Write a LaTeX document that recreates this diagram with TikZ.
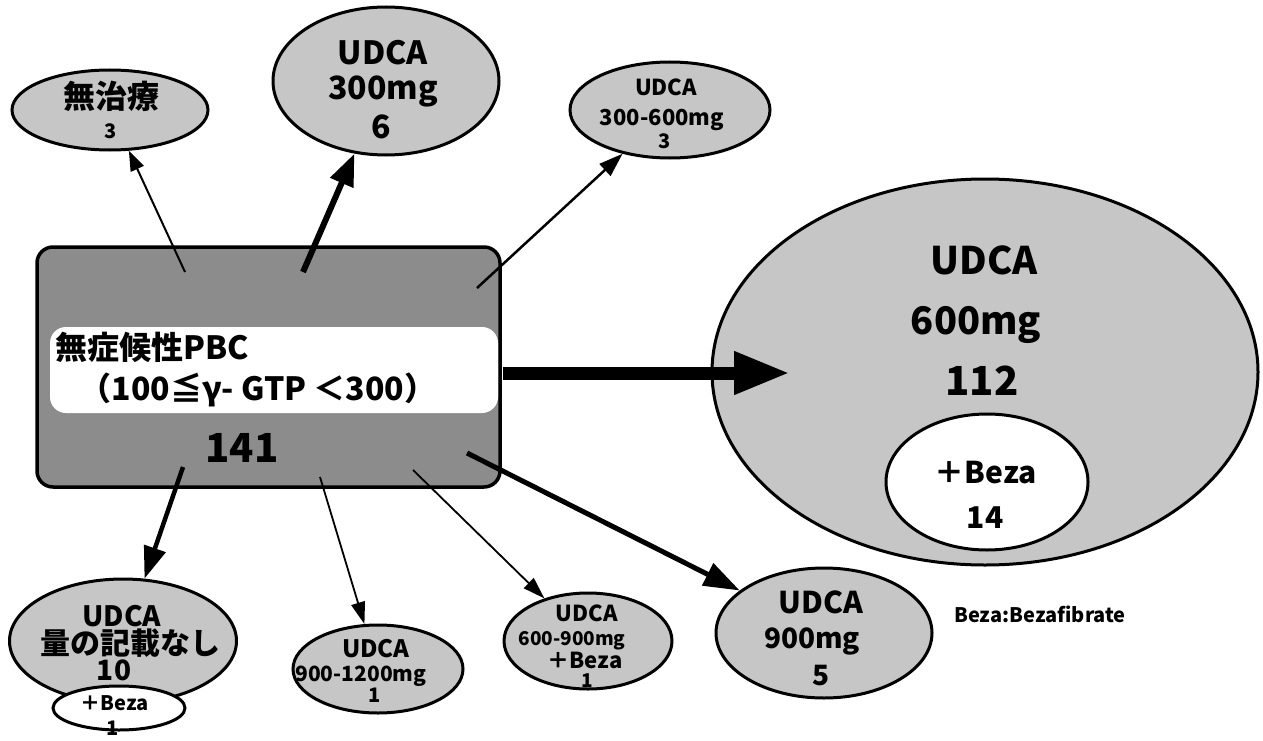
\documentclass[tikz,border=0pt]{standalone}
\usepackage{fontspec}
\setmainfont{Noto Sans CJK JP}
\usetikzlibrary{shapes.geometric,arrows.meta,calc}
\definecolor{ellgray}{RGB}{198,198,198}
\definecolor{boxgray}{RGB}{140,140,140}
\newcommand\myfs[1]{\fontsize{#1}{#1}\selectfont}
\tikzset{
  ell/.style={ellipse, draw, line width=3pt, fill=ellgray, inner sep=0pt},
  wel/.style={ellipse, draw, line width=3pt, fill=white, inner sep=0pt},
  lbl/.style={inner sep=0pt, anchor=base, font=\bfseries\myfs{#1}},
  arrA/.style={line width=2pt, -{Triangle[length=20pt,width=14pt]}},
  arrB/.style={line width=6pt, -{Triangle[length=32pt,width=24pt]}},
  arrC/.style={line width=2.5pt, -{Triangle[length=24pt,width=16pt]}},
  arrD/.style={line width=13pt, -{Triangle[length=56pt,width=40pt]}},
  arrE/.style={line width=5pt, -{Triangle[length=36pt,width=24pt]}},
  arrF/.style={line width=4.5pt, -{Triangle[length=32pt,width=22pt]}},
  arrG/.style={line width=1.8pt, -{Triangle[length=22pt,width=14pt]}},
}
\begin{document}
\begin{tikzpicture}[x=1pt,y=-1pt]
\useasboundingbox (0,0) rectangle (1263,741);

% ellipses
\node[ell, minimum width=196pt, minimum height=80pt] (nochi) at (110,110) {};
\node[ell, minimum width=226pt, minimum height=148pt] (u300) at (386,81) {};
\node[ell, minimum width=200pt, minimum height=96pt] (u300600) at (670,110) {};
\node[ell, minimum width=546pt, minimum height=386pt] (u600) at (985,372) {};
\node[wel, minimum width=202pt, minimum height=136pt] (u600b) at (987,482) {};
\node[ell, minimum width=216pt, minimum height=130pt] (u900) at (824,633) {};
\node[ell, minimum width=168pt, minimum height=96pt] (u600900) at (588,641) {};
\node[ell, minimum width=170pt, minimum height=88pt] (u9001200) at (378,669) {};
\node[ell, minimum width=227pt, minimum height=124pt] (unone) at (123,641) {};
\node[wel, minimum width=132pt, minimum height=44pt] (unoneb) at (119,708) {};

% main box
\node[draw, line width=3.5pt, rounded corners=16pt, fill=boxgray,
      minimum width=463pt, minimum height=240pt, inner sep=0pt] (box) at (268.5,367) {};
\node[fill=white, rounded corners=16pt, minimum width=448pt, minimum height=86pt,
      inner sep=0pt] (band) at (274,370) {};

% arrow start points
\coordinate (s1) at (185,272);
\coordinate (s2) at (303,272);
\coordinate (s3) at (477,288);
\coordinate (s4) at (503,373);
\coordinate (t4) at (790,373);
\coordinate (s5) at (467,453);
\coordinate (s6) at (183,467);
\coordinate (s7) at (320,477);
\coordinate (s8) at (413,470);

\draw[arrA] (s1) -- (nochi);
\draw[arrB] (s2) -- (u300);
\draw[arrC] (s3) -- (u300600);
\draw[arrD] (s4) -- (t4);
\draw[arrE] (s5) -- (u900);
\draw[arrF] (s6) -- (unone);
\draw[arrG] (s7) -- (u9001200);
\draw[arrG] (s8) -- (u600900);

% box texts
\node[lbl=32, anchor=base west] (m1) at (55,359) {無症候性PBC};
\node[lbl=32] (m2) at (258,400) {（100≦γ- GTP ＜300）};
\node[lbl=40] (m3) at (242,462) {141};

% node texts
\node[lbl=32] (n1a) at (111,109) {無治療};
\node[lbl=20] (n1b) at (111,139) {3};

\node[lbl=32] (n2a) at (383,65) {UDCA};
\node[lbl=32] (n2b) at (383,100) {300mg};
\node[lbl=32] (n2c) at (381,139) {6};

\node[lbl=22] (n3a) at (666,96) {UDCA};
\node[lbl=22] (n3b) at (662,126) {300-600mg};
\node[lbl=20] (n3c) at (665,148) {3};

\node[lbl=38] (n4a) at (984,274) {UDCA};
\node[lbl=38] (n4b) at (976,334) {600mg};
\node[lbl=40] (n4c) at (982,395) {112};
\node[lbl=30] (n4d) at (986,483) {＋Beza};
\node[lbl=30] (n4e) at (985,528) {14};

\node[lbl=30] (n5a) at (821,613) {UDCA};
\node[lbl=28] (n5b) at (812,648) {900mg};
\node[lbl=28] (n5c) at (821,685) {5};

\node[lbl=22] (n6a) at (587,621) {UDCA};
\node[lbl=19] (n6b) at (572,645) {600-900mg};
\node[lbl=22] (n6c) at (585,668) {＋Beza};
\node[lbl=19] (n6d) at (587,687) {1};

\node[lbl=24] (n7a) at (376,657) {UDCA};
\node[lbl=21] (n7b) at (361,681) {900-1200mg};
\node[lbl=20] (n7c) at (375,702) {1};

\node[lbl=28] (n8a) at (122,626) {UDCA};
\node[lbl=30] (n8b) at (130,654) {量の記載なし};
\node[lbl=28] (n8c) at (114,680) {10};
\node[lbl=20] (n8d) at (115,710) {＋Beza};
\node[lbl=20] (n8e) at (113,735) {1};

\node[lbl=20] (legend) at (1040,622) {Beza:Bezafibrate};
\end{tikzpicture}
\end{document}
